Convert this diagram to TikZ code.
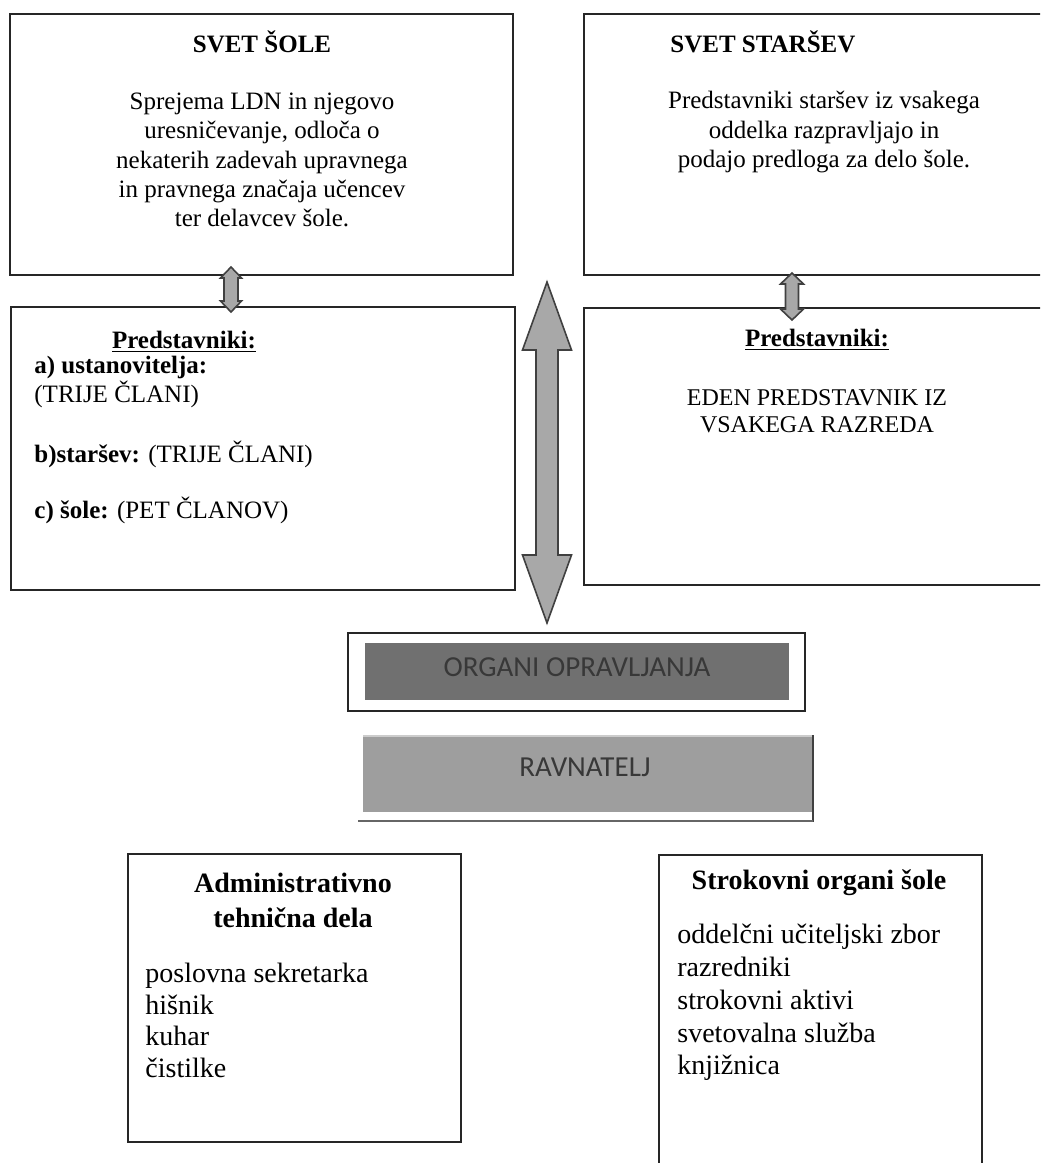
\documentclass[tikz,border=0pt]{standalone}
\usepackage{fontspec}
\setmainfont{Liberation Serif}
\newfontfamily\carlitofont{Carlito}
\usetikzlibrary{calc,fit,positioning}

\definecolor{temnosiva}{RGB}{112,112,112}
\definecolor{svetlosiva}{RGB}{158,158,158}
\definecolor{puscsiva}{RGB}{168,168,168}

\tikzset{
	okvir/.style={draw=black!85, line width=1pt, inner sep=0pt},
	naslov/.style={font=\fontsize{12.5}{14.6}\selectfont\bfseries, inner sep=0pt},
	besedilo/.style={font=\fontsize{12.5}{14.6}\selectfont, inner sep=0pt, align=center},
	vrstica/.style={font=\fontsize{12.5}{14.6}\selectfont, inner sep=0pt, anchor=west, text height=0.7em, text depth=0.2em},
	spodaj/.style={font=\fontsize{14}{15.8}\selectfont, inner sep=0pt, align=left, anchor=west},
	puscica/.style={draw=black!75, fill=puscsiva, line width=0.8pt, line join=miter},
	sivo/.style={inner sep=0pt, font=\fontsize{14.5}{16}\selectfont\carlitofont}
}

% debela dvojna puscica: zgoraj, spodaj, pol debla, pol glave, dolzina glave (px)
\newcommand{\debelapuscica}[5]{
	\draw[puscica] let \p1=(#1), \p2=(#2) in
		(\x1,\y1) -- ({\x1+#4*0.5pt},{\y1-#5*0.5pt}) -- ({\x1+#3*0.5pt},{\y1-#5*0.5pt})
		-- ({\x1+#3*0.5pt},{\y2+#5*0.5pt}) -- ({\x1+#4*0.5pt},{\y2+#5*0.5pt}) -- (\x1,\y2)
		-- ({\x1-#4*0.5pt},{\y2+#5*0.5pt}) -- ({\x1-#3*0.5pt},{\y2+#5*0.5pt})
		-- ({\x1-#3*0.5pt},{\y1-#5*0.5pt}) -- ({\x1-#4*0.5pt},{\y1-#5*0.5pt}) -- cycle;
}

\begin{document}
\begin{tikzpicture}[x=0.5pt, y=-0.5pt]

	\useasboundingbox (0,0) rectangle (1040,1163);
	\clip (0,0) rectangle (1040,1163);

	% okvirji
	\node[okvir, fit={(10,14) (513,275)}] (svetsole) {};
	\node[okvir, fit={(584,14) (1050,275)}] (svetstarsev) {};
	\node[okvir, fit={(11,307) (515,590)}] (predsole) {};
	\node[okvir, fit={(584,308) (1050,585)}] (predstarsev) {};
	\node[okvir, fit={(128,854) (461,1142)}] (admin) {};
	\node[okvir, fit={(659,855) (982,1175)}] (strokovni) {};

	% svet sole
	\node[naslov] (naslovsole) at (262,42) {SVET ŠOLE};
	\node[besedilo] (opissole) at (262,160) {Sprejema LDN in njegovo\\uresničevanje, odloča o\\nekaterih zadevah upravnega\\in pravnega značaja učencev\\ter delavcev šole.};

	% svet starsev
	\node[naslov, anchor=west] (naslovstarsev) at (670,42) {SVET STARŠEV};
	\node[besedilo] (opisstarsev) at (824,132) {Predstavniki staršev iz vsakega\\oddelka razpravljajo in\\podajo predloga za delo šole.};

	% predstavniki
	\node[naslov] (predl) at (184,342) {\underline{Predstavniki:}};
	\node[vrstica] (pa) at (34,368) {\textbf{a) ustanovitelja:}};
	\node[vrstica] (pa2) at (34,397) {(TRIJE ČLANI)};
	\node[vrstica] (pb) at (34,457) {\textbf{b)staršev:} (TRIJE ČLANI)};
	\node[vrstica] (pc) at (34,513) {\textbf{c) šole:} (PET ČLANOV)};

	\node[naslov] (predd) at (817,340) {\underline{Predstavniki:}};
	\node[besedilo, font=\fontsize{12}{13.5}\selectfont] (eden) at (817,411.5) {EDEN PREDSTAVNIK IZ\\VSAKEGA RAZREDA};

	% organi in ravnatelj
	\node[fit={(348,633) (805,711)}, draw=black!85, line width=0.8pt, inner sep=0pt] (organi) {};
	\node[sivo, fill=temnosiva, fit={(365,643) (789,700)}] (organiin) {};
	\node[sivo, text=black!78] (organitext) at (577,667) {ORGANI OPRAVLJANJA};

	\node[sivo, fill=svetlosiva, fit={(363,737) (813,812)}] (ravnatelj) {};
	\node[sivo, text=black!78] (ravnateljtext) at (585,767) {RAVNATELJ};
	\draw[black!20, line width=0.8pt] (363,736) -- (813,736);
	\draw[black!75, line width=1pt] (813,735) -- (813,822);
	\draw[black!60, line width=1.2pt] (358,821) -- (813,821);

	% spodnja okvirja
	\node[naslov, font=\fontsize{14}{17.5}\selectfont\bfseries, align=center] (naslovadmin) at (293,900.5) {Administrativno\\tehnična dela};
	\node[spodaj] (seznamadmin) at (145,1020.5) {poslovna sekretarka\\hišnik\\kuhar\\čistilke};

	\node[naslov, font=\fontsize{14}{17.5}\selectfont\bfseries] (naslovstrok) at (819,883) {Strokovni organi šole};
	\node[spodaj, font=\fontsize{14}{16.4}\selectfont] (seznamstrok) at (677,1002.5) {oddelčni učiteljski zbor\\razredniki\\strokovni aktivi\\svetovalna služba\\knjižnica};

	% puscice
	\coordinate (ls1) at (231,267);
	\coordinate (ls2) at (231,312);
	\coordinate (ds1) at (792,273);
	\coordinate (ds2) at (792,320);
	\coordinate (vel1) at (547,282);
	\coordinate (vel2) at (547,623);

	\debelapuscica{ls1}{ls2}{7}{10.5}{11}
	\debelapuscica{ds1}{ds2}{6.5}{11.5}{11}
	\debelapuscica{vel1}{vel2}{11}{24.5}{68}

\end{tikzpicture}
\end{document}
